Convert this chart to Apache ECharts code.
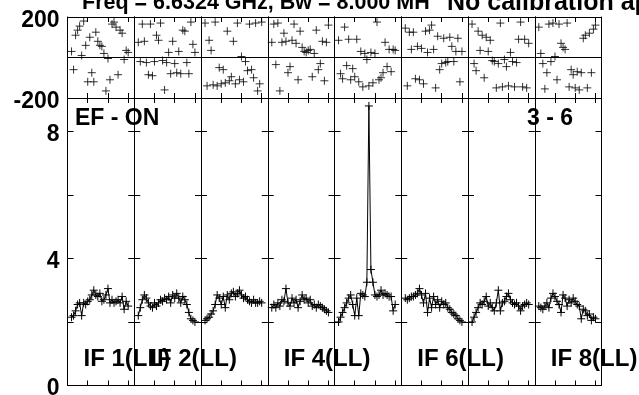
<!DOCTYPE html>
<html>
<head>
<meta charset="utf-8">
<script src="https://cdn.jsdelivr.net/npm/echarts@6/dist/echarts.min.js"></script>
<style>
html,body{margin:0;padding:0;background:#fff;}
#c{width:639px;height:395px;}
</style>
</head>
<body>
<div id="c"></div>
<script>
// ---------------- data ----------------
const channels = [2,3,4,5,6,7,8,9,10,11,12,13,14,15,16,17,18,19,20,21,22,23,24,25,26,27,28,29,30];

const ifLabels = ['IF 1(LL)', 'IF 2(LL)', '', 'IF 4(LL)', '', 'IF 6(LL)', '', 'IF 8(LL)'];

const titleLeft = 'Freq = 6.6324 GHz, Bw = 8.000 MH';
const titleRight = 'No calibration applied';
const leftTag = 'EF - ON';
const rightTag = '3 - 6';

const phaseTicks = [-200, 0, 200];
const ampTickLabels = [0, 4, 8];

// phase (degrees) per IF, channels 2..30
const phase1 = [30,-60,110,135,155,10,180,60,-120,100,-75,-120,125,80,60,55,20,-165,-5,-110,165,175,150,-85,135,120,-10,35,25];
const phase2 = [75,-20,165,80,-25,-85,165,-90,-20,110,85,170,-15,-160,-25,25,-80,80,-30,-75,30,-80,135,130,-25,-80,175,65,25];
const phase3 = [170,-140,85,35,-135,175,-140,-50,-130,-60,-125,130,-115,-95,80,-130,170,-110,5,-120,-20,-65,165,-60,-100,170,-165,-130,175];
const phase4 = [75,165,-35,170,-165,75,120,80,-75,-45,85,165,70,-110,130,50,30,25,35,40,-95,20,135,-60,-30,80,-115,75,160];
const phase5 = [85,-80,-105,150,-40,90,-110,-55,-95,90,-120,30,-145,20,-10,-140,25,-125,20,175,-110,-100,-75,75,-45,40,-70,40,35];
const phase6 = [145,-140,125,40,125,-105,55,-110,45,-130,130,25,135,160,40,-150,105,-60,-30,95,-25,-20,100,55,-20,30,95,-120,30];
const phase7 = [165,-30,-65,130,35,110,-100,100,30,85,-15,-20,-150,-30,170,-145,-10,-45,-140,25,-20,-145,-25,90,175,-145,90,-150,70];
const phase8 = [150,20,-30,-155,-75,165,-20,170,5,-110,165,70,50,40,170,-145,-60,-85,-150,-70,-160,-75,95,110,-150,120,-75,140,160];

// amplitude per IF, channels 2..30
const amp1 = [2.15,2.2,2.35,2.55,2.6,2.2,2.6,2.55,2.65,2.7,2.85,3.0,2.85,2.8,2.9,2.65,2.7,2.85,3.05,2.6,2.7,2.6,2.65,2.7,2.6,2.8,2.4,2.65,2.5];
const amp2 = [2.2,2.45,2.7,2.85,2.75,2.6,2.5,2.45,2.6,2.5,2.6,2.7,2.65,2.75,2.7,2.8,2.6,2.85,2.75,2.9,2.75,2.6,2.8,2.7,2.55,2.3,2.1,2.05,2.0];
const amp3 = [2.05,2.1,2.15,2.25,2.35,2.55,2.85,2.75,2.55,2.8,2.45,2.85,2.7,2.9,2.95,2.8,2.9,3.0,2.85,2.75,2.8,2.7,2.65,2.6,2.7,2.6,2.6,2.65,2.6];
const amp4 = [2.45,2.55,2.45,2.6,2.5,2.7,2.65,3.05,2.6,2.5,2.75,2.6,2.7,2.45,2.65,2.85,2.7,2.75,2.6,2.7,2.5,2.55,2.45,2.55,2.5,2.45,2.4,2.35,2.3];
const amp5 = [2.0,2.15,2.3,2.45,2.6,2.75,2.85,2.55,2.2,2.75,2.2,2.9,2.85,2.8,3.25,8.8,3.65,3.25,2.85,2.8,2.85,3.0,2.85,2.9,2.85,2.8,2.8,2.35,2.55];
const amp6 = [2.75,2.7,2.75,2.8,2.8,2.85,2.9,3.05,2.85,2.6,2.9,2.3,2.75,2.45,2.8,2.55,2.7,2.45,2.65,2.55,2.6,2.45,2.4,2.3,2.25,2.2,2.1,2.05,2.0];
const amp7 = [2.0,2.15,2.3,2.45,2.6,2.55,2.65,2.8,2.5,2.6,2.45,2.35,2.6,3.0,2.35,2.6,2.65,2.8,2.9,2.7,2.6,2.55,2.6,2.5,2.35,2.5,2.55,2.6,2.55];
const amp8 = [2.5,2.45,2.4,2.5,2.6,2.45,2.75,2.9,2.8,2.65,2.55,2.3,2.85,2.75,2.5,2.7,2.6,2.75,2.65,2.55,2.5,2.1,2.4,2.35,2.2,2.25,2.05,2.15,2.1];

const phases = [phase1, phase2, phase3, phase4, phase5, phase6, phase7, phase8];
const amps = [amp1, amp2, amp3, amp4, amp5, amp6, amp7, amp8];

// ---------------- layout ----------------
const FONT = 'Liberation Sans, Arial, Helvetica, sans-serif';
const PLOT_LEFT = 67.5, PANEL_W = 66.75;
const PH_TOP = 17, PH_H = 81;
const AMP_TOP = 98, AMP_H = 287.5;
const CH_MIN = 0, CH_MAX = 33;
const AMP_MAX = 9.05;
const PLUS = 'path://M0,5L10,5M5,0L5,10';

const grids = [], xAxes = [], yAxes = [], series = [];
function axisLine() { return {show: true, onZero: false, lineStyle: {color: '#000', width: 1}}; }
function tick(len) { return {show: true, inside: true, length: len, lineStyle: {color: '#000', width: 1}}; }
function rich() { return {v: {fontFamily: FONT, fontWeight: 'bold', fontSize: 23, color: '#000', padding: [7, 0, 0, 0]}}; }

function addGrid(left, top, height, kind, p) {
  const g = grids.length;
  grids.push({left: left, top: top, width: PANEL_W, height: height,
    containLabel: false, outerBoundsMode: 'none'});
  const isAmp = kind === 'amp';
  ['bottom', 'top'].forEach(function (pos) {
    xAxes.push({
      gridIndex: g, type: 'value', position: pos, min: CH_MIN, max: CH_MAX, interval: 10,
      axisLine: axisLine(), splitLine: {show: false}, axisLabel: {show: false},
      axisTick: tick(5)
    });
  });
  ['left', 'right'].forEach(function (pos) {
    const showLabel = pos === 'left' && p === 0;
    if (isAmp) {
      yAxes.push({
        gridIndex: g, type: 'value', position: pos, min: 0, max: AMP_MAX, interval: 2,
        axisLine: axisLine(), splitLine: {show: false},
        axisTick: tick(6),
        axisLabel: {show: showLabel, showMaxLabel: false, margin: 8, rich: rich(),
          formatter: function (v) { return ampTickLabels.indexOf(v) >= 0 ? '{v|' + v + '}' : ''; }}
      });
    } else {
      yAxes.push({
        gridIndex: g, type: 'value', position: pos, min: phaseTicks[0], max: phaseTicks[2], interval: 200,
        axisLine: axisLine(), axisTick: {show: false},
        splitLine: {show: pos === 'left', lineStyle: {color: '#000', width: 1}},
        axisLabel: {show: showLabel, margin: 8, rich: rich(),
          formatter: function (v) { return v === 0 ? '' : '{v|' + v + '}'; }}
      });
    }
  });
  return g;
}

for (let p = 0; p < 8; p++) {
  const left = PLOT_LEFT + p * PANEL_W;
  const gPh = addGrid(left, PH_TOP, PH_H, 'phase', p);
  series.push({
    type: 'scatter', xAxisIndex: 2 * gPh, yAxisIndex: 2 * gPh,
    data: channels.map(function (c, i) { return [c, phases[p][i]]; }),
    symbol: PLUS, symbolSize: 8,
    itemStyle: {color: 'rgba(0,0,0,0)', borderColor: '#000', borderWidth: 1},
    silent: true
  });
  const gA = addGrid(left, AMP_TOP, AMP_H, 'amp', p);
  series.push({
    type: 'line', xAxisIndex: 2 * gA, yAxisIndex: 2 * gA,
    data: channels.map(function (c, i) { return [c, amps[p][i]]; }),
    symbol: PLUS, symbolSize: 8, showSymbol: true, showAllSymbol: true,
    lineStyle: {color: '#000', width: 1},
    itemStyle: {color: 'rgba(0,0,0,0)', borderColor: '#000', borderWidth: 1},
    silent: true
  });
}

const textStyle = function (x, y, t, size, align) {
  return {type: 'text', x: x, y: y, silent: true,
    style: {text: t, fill: '#000', font: 'bold ' + size + 'px ' + FONT,
      align: align || 'left', verticalAlign: 'middle'}};
};

const graphics = [
  textStyle(82, 3, titleLeft, 21.5),
  textStyle(447, 3, titleRight, 25),
  textStyle(75, 119, leftTag, 23),
  textStyle(527, 119, rightTag, 23)
];
ifLabels.forEach(function (t, p) {
  if (t) graphics.push(textStyle(PLOT_LEFT + p * PANEL_W + 16, 359, t, 24));
});

const chart = echarts.init(document.getElementById('c'), null, {renderer: 'canvas'});
chart.setOption({
  animation: false,
  backgroundColor: '#fff',
  grid: grids,
  xAxis: xAxes,
  yAxis: yAxes,
  series: series,
  graphic: graphics
});
</script>
</body>
</html>
